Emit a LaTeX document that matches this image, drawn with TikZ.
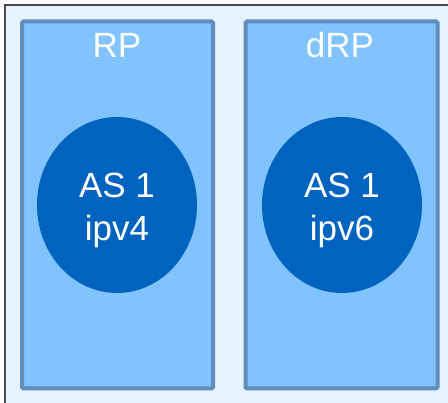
\documentclass[tikz,border=0pt]{standalone}
\usepackage{fontspec}
\setmainfont{Liberation Sans}
\usetikzlibrary{shapes.geometric}
\definecolor{outerbg}{HTML}{E6F2FD}
\definecolor{outerline}{HTML}{4A4A4A}
\definecolor{panelfill}{HTML}{80C3FF}
\definecolor{panelline}{HTML}{5D8EBD}
\definecolor{asfill}{HTML}{0063BE}
\tikzset{
  panel/.style={draw=panelline, line width=4pt, fill=panelfill, rounded corners=1.5pt,
    minimum width=191pt, minimum height=367pt, inner sep=0pt},
  paneltitle/.style={text=white, font=\fontsize{35}{40}\selectfont, inner sep=0pt, anchor=center},
  asnode/.style={ellipse, fill=asfill, minimum width=160pt, minimum height=176pt, inner sep=0pt},
  astext/.style={text=white, align=center, inner sep=0pt, font=\fontsize{35}{43}\selectfont}
}
\begin{document}
\begin{tikzpicture}[x=1pt,y=-1pt]
  \useasboundingbox (0,0) rectangle (448,403);
  \fill[white] (0,0) rectangle (448,403);
  % outer frame, running past the right and bottom edges
  \begin{scope}
    \clip (0,0) rectangle (448,403);
    \draw[outerline, line width=2pt, fill=outerbg] (5,5) rectangle (470,430);
  \end{scope}
  % route processor panels
  \node[panel] (rp) at (117.5,205) {};
  \node[panel, minimum width=192pt] (drp) at (341.5,205) {};
  \node[paneltitle] (rplabel) at (117,45) {RP};
  \node[paneltitle] (drplabel) at (340,45) {dRP};
  % address families
  \node[asnode] (as4) at (117,205) {};
  \node[asnode] (as6) at (342,205) {};
  \node[astext] (as4text) at ([yshift=-5pt]as4.center) {AS 1\\ipv4};
  \node[astext] (as6text) at ([yshift=-5pt]as6.center) {AS 1\\ipv6};
\end{tikzpicture}
\end{document}
